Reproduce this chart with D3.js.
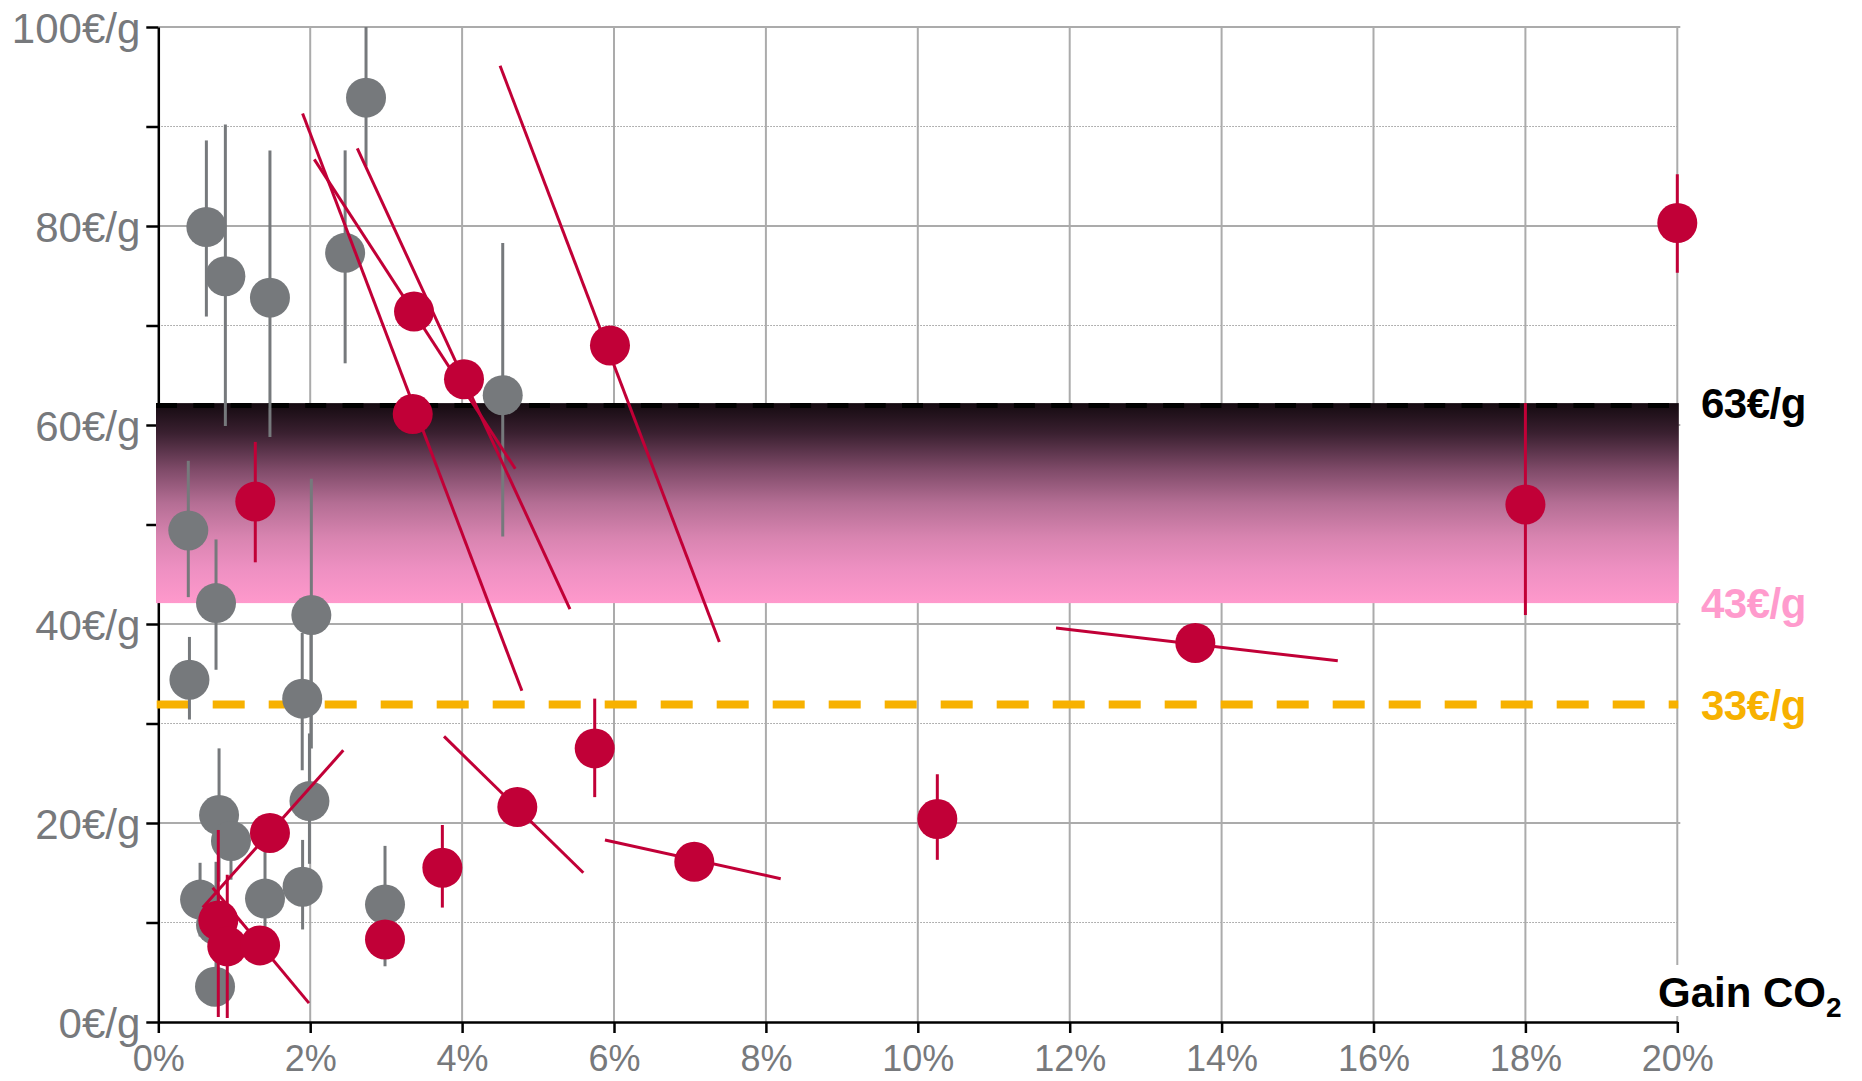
<!DOCTYPE html>
<html>
<head>
<meta charset="utf-8">
<script src="https://cdn.jsdelivr.net/npm/d3@7"></script>
<style>
  html, body { margin: 0; padding: 0; background: #ffffff; }
  svg { display: block; }
  text { font-family: "Liberation Sans", Arial, sans-serif; }
</style>
</head>
<body>
<svg id="chart" width="1862" height="1081"></svg>
<script>
// ---------- DATA ----------
const xTicks = [0, 2, 4, 6, 8, 10, 12, 14, 16, 18, 20];
const yMajorTicks = [0, 20, 40, 60, 80, 100];
const yMinorTicks = [10, 30, 50, 70, 90];

// grey series: gain CO2 (%), cost (€/g), error bar low/high
const greyPct  = [0.633, 0.883, 1.47, 2.46, 2.735, 4.535, 0.395, 0.76, 2.015, 0.41, 1.895, 0.80, 0.957, 1.99, 0.55, 0.76, 1.405, 1.90, 2.985, 0.747];
const greyVal  = [79.9, 74.95, 72.8, 77.3, 92.9, 63.0, 49.4, 42.1, 40.9, 34.4, 32.5, 20.8, 18.2, 22.2, 12.3, 9.75, 12.4, 13.6, 11.8, 3.55];
const greyLow  = [70.9, 59.9, 58.8, 66.2, 86.0, 48.8, 42.7, 35.4, 27.5, 30.4, 25.3, 14.1, 14.3, 15.9, 8.6, 3.4, 7.5, 9.3, 5.6, null];
const greyHigh = [88.6, 90.2, 87.6, 87.6, 100.0, 78.3, 56.4, 48.5, 54.6, 38.7, 39.1, 27.5, 22.1, 29.0, 16.0, 16.1, 17.3, 18.3, 17.7, null];

// red series: gain CO2 (%), cost (€/g)
const redPct = [3.367, 4.025, 3.35, 5.947, 1.277, 1.47, 0.79, 0.908, 1.34, 2.985, 3.74, 4.727, 5.746, 7.057, 10.257, 13.654, 18.0, 20.0];
const redVal = [71.4, 64.6, 61.1, 68.0, 52.3, 19.0, 10.2, 7.6, 7.7, 8.3, 15.5, 21.6, 27.5, 16.1, 20.4, 38.1, 52.0, 80.3];
// red vertical error bars (null = none)
const redLow  = [null, null, null, null, 46.2, null, 0.5, 0.4, null, null, 11.5, null, 22.6, null, 16.3, null, 40.9, 75.3];
const redHigh = [null, null, null, null, 58.3, null, 19.3, 14.8, null, null, 19.8, null, 32.5, null, 24.9, null, 62.2, 85.2];
// red sensitivity segments (null = none)
const redLineX1 = [2.054, 2.62, 1.90, 4.50, null, 0.585, null, null, 0.716, null, null, 3.762, null, 5.881, null, 11.82, null, null];
const redLineV1 = [86.7, 87.8, 91.3, 96.1, null, 11.5, null, null, 13.5, null, null, 28.7, null, 18.3, null, 39.6, null, null];
const redLineX2 = [4.70, 5.42, 4.787, 7.387, null, 2.436, null, null, 1.984, null, null, 5.596, null, 8.195, null, 15.53, null, null];
const redLineV2 = [55.6, 41.5, 33.3, 38.2, null, 27.3, null, null, 1.9, null, null, 15.0, null, 14.4, null, 36.3, null, null];

// reference levels
const bandTop = 62.2, bandBottom = 42.1, orangeLevel = 31.9;
const refLabels = ["63€/g", "43€/g", "33€/g"];
const refLabelLevels = [bandTop, bandBottom, orangeLevel];

// ---------- STYLE ----------
const RED = "#c10037", GREY = "#76797c", LABEL_GREY = "#77797c";
const GRID = "#ababab", ORANGE = "#f7b100", PINK = "#ff9bcd";

const svg = d3.select("#chart");
const x = d3.scaleLinear().domain([0, 20]).range([158.3, 1677.3]);
const y = d3.scaleLinear().domain([0, 100]).range([1022, 27]);

// gradient
const defs = svg.append("defs");
const grad = defs.append("linearGradient").attr("id", "band").attr("x1", 0).attr("y1", 0).attr("x2", 0).attr("y2", 1);
[[0, "#140a10"], [0.15, "#3a2030"], [0.33, "#7e4a68"], [0.5, "#b46e94"], [0.67, "#d884b0"], [0.83, "#ee90c2"], [1, "#ff99cc"]]
  .forEach(([o, c]) => grad.append("stop").attr("offset", o).attr("stop-color", c));

// ---------- GRID ----------
const grid = svg.append("g");
grid.selectAll(".hmaj").data(yMajorTicks.filter(d => d > 0)).join("line")
  .attr("x1", x(0)).attr("x2", x(20) + 3).attr("y1", d => y(d)).attr("y2", d => y(d))
  .attr("stroke", GRID).attr("stroke-width", 2);
grid.selectAll(".hmin").data(yMinorTicks).join("line")
  .attr("x1", x(0)).attr("x2", x(20)).attr("y1", d => y(d)).attr("y2", d => y(d))
  .attr("stroke", "#9a9a9a").attr("stroke-width", 1).attr("stroke-dasharray", "1.5,1.5");
grid.selectAll(".vmaj").data(xTicks.filter(d => d > 0)).join("line")
  .attr("x1", d => x(d)).attr("x2", d => x(d)).attr("y1", y(100)).attr("y2", y(0))
  .attr("stroke", GRID).attr("stroke-width", 2);

// ---------- AXES ----------
const fmtY = d => d + "€/g";
const yAxis = svg.append("g").attr("transform", `translate(${x(0)},0)`)
  .call(d3.axisLeft(y).tickValues(yMajorTicks).tickFormat(fmtY).tickSize(12).tickPadding(6).tickSizeOuter(0));
const yMinor = svg.append("g").attr("transform", `translate(${x(0)},0)`)
  .call(d3.axisLeft(y).tickValues(yMinorTicks).tickFormat("").tickSize(12).tickSizeOuter(0));
yMinor.select(".domain").remove();
const xAxis = svg.append("g").attr("transform", `translate(0,${y(0)})`)
  .call(d3.axisBottom(x).tickValues(xTicks).tickFormat(d => d + "%").tickSize(11).tickPadding(12).tickSizeOuter(0));
[yAxis, yMinor, xAxis].forEach(g => {
  g.select(".domain").attr("stroke", "#000").attr("stroke-width", 2.5);
  g.selectAll(".tick line").attr("stroke", "#000").attr("stroke-width", 2.5);
});
yAxis.selectAll(".tick text").attr("font-size", 42).attr("fill", LABEL_GREY)
  .attr("font-family", '"Liberation Sans", Arial, sans-serif').attr("dy", "0.36em");
xAxis.selectAll(".tick text").attr("font-size", 36).attr("fill", LABEL_GREY)
  .attr("font-family", '"Liberation Sans", Arial, sans-serif');

// ---------- BAND & REFERENCE LINES ----------
svg.append("rect").attr("x", 156).attr("width", x(20) + 1.5 - 156)
  .attr("y", y(bandTop)).attr("height", y(bandBottom) - y(bandTop)).attr("fill", "url(#band)");
svg.append("line").attr("x1", 156).attr("x2", x(20) + 1).attr("y1", y(bandTop) + 2.5).attr("y2", y(bandTop) + 2.5)
  .attr("stroke", "#000").attr("stroke-width", 5).attr("stroke-dasharray", "21,16.3");
svg.append("line").attr("x1", 156.7).attr("x2", x(20) + 1).attr("y1", y(orangeLevel)).attr("y2", y(orangeLevel))
  .attr("stroke", ORANGE).attr("stroke-width", 8).attr("stroke-dasharray", "32,24");

// ---------- GREY POINTS ----------
const gi = d3.range(greyPct.length);
svg.append("g").selectAll("line").data(gi.filter(i => greyLow[i] !== null)).join("line")
  .attr("x1", i => x(greyPct[i])).attr("x2", i => x(greyPct[i]))
  .attr("y1", i => y(greyHigh[i])).attr("y2", i => y(greyLow[i]))
  .attr("stroke", GREY).attr("stroke-width", 3);
svg.append("g").selectAll("circle").data(gi).join("circle")
  .attr("cx", i => x(greyPct[i])).attr("cy", i => y(greyVal[i])).attr("r", 20).attr("fill", GREY);

// ---------- RED POINTS ----------
const ri = d3.range(redPct.length);
svg.append("g").selectAll("line").data(ri.filter(i => redLow[i] !== null)).join("line")
  .attr("x1", i => x(redPct[i])).attr("x2", i => x(redPct[i]))
  .attr("y1", i => y(redHigh[i])).attr("y2", i => y(redLow[i]))
  .attr("stroke", RED).attr("stroke-width", 3);
svg.append("g").selectAll("line").data(ri.filter(i => redLineX1[i] !== null)).join("line")
  .attr("x1", i => x(redLineX1[i])).attr("y1", i => y(redLineV1[i]))
  .attr("x2", i => x(redLineX2[i])).attr("y2", i => y(redLineV2[i]))
  .attr("stroke", RED).attr("stroke-width", 3);
svg.append("g").selectAll("circle").data(ri).join("circle")
  .attr("cx", i => x(redPct[i])).attr("cy", i => y(redVal[i])).attr("r", 20).attr("fill", RED);

// ---------- LABELS ----------
const refColors = ["#000000", PINK, ORANGE];
svg.append("g").selectAll("text").data(d3.range(refLabels.length)).join("text")
  .attr("x", 1701).attr("y", i => y(refLabelLevels[i]) + 15)
  .attr("font-size", 42).attr("font-weight", "bold").attr("fill", i => refColors[i])
  .attr("letter-spacing", -0.5)
  .text(i => refLabels[i]);

// white backdrop behind axis title
svg.append("rect").attr("x", 1650).attr("y", 965).attr("width", 205).attr("height", 51).attr("fill", "#fff");
const title = svg.append("text").attr("x", 1658).attr("y", 1007)
  .attr("font-size", 42).attr("font-weight", "bold").attr("fill", "#000");
title.append("tspan").text("Gain CO");
title.append("tspan").attr("font-size", 28).attr("dy", 10).text("2");
</script>
</body>
</html>
